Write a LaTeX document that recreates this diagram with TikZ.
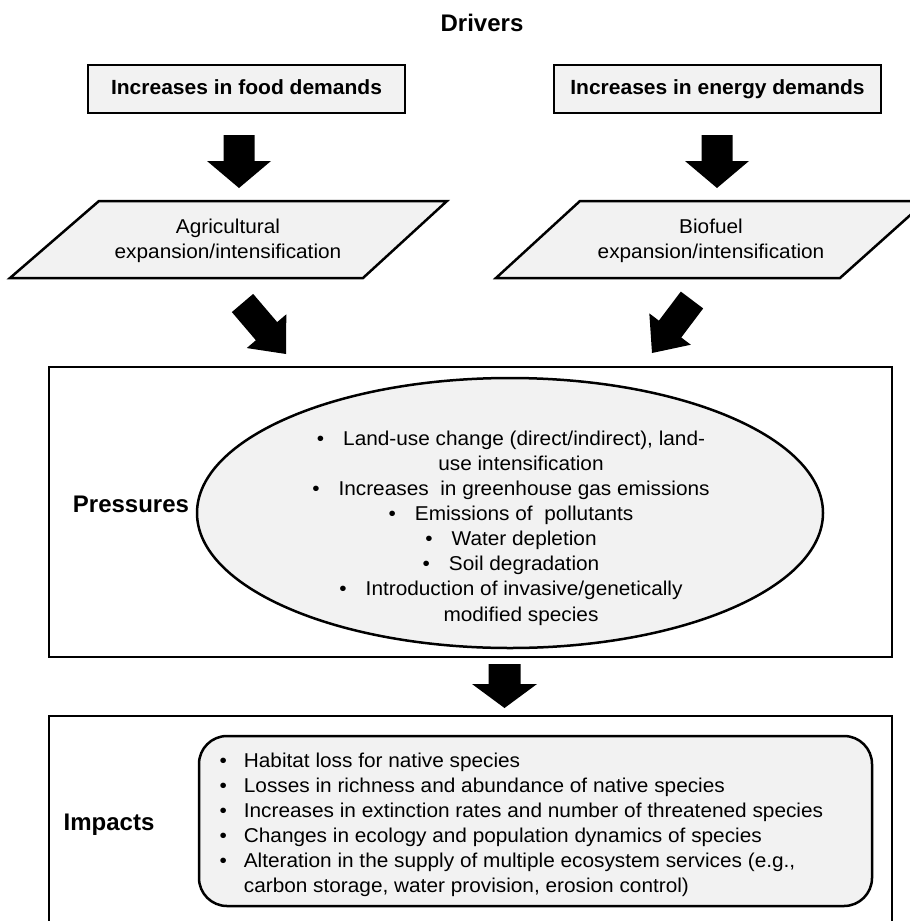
\documentclass[tikz,border=0pt]{standalone}
\usepackage{fontspec}
\setmainfont{Liberation Sans}
\newfontfamily\bodyfamily[FakeStretch=1.04]{Liberation Sans}
\newfontfamily\titlefamily[FakeStretch=1.025]{Liberation Sans}
\usetikzlibrary{calc,shapes.geometric}

\definecolor{panelfill}{HTML}{F2F2F2}
\newcommand{\bodysize}{\bodyfamily\fontsize{20}{25.1}\selectfont}
\newcommand{\titlesize}{\titlefamily\fontsize{20.5}{24}\selectfont\bfseries}
\newcommand{\headsize}{\fontsize{24}{28}\selectfont\bfseries}

\begin{document}
\begin{tikzpicture}[x=1pt,y=-1pt,
  outline/.style={draw=black, line width=2.5pt},
  titlebox/.style={outline, fill=panelfill, inner sep=0pt, font=\titlesize,
    text height=15pt, text depth=4pt},
  panel/.style={outline, inner sep=0pt},
  sectionlabel/.style={font=\headsize, inner sep=0pt},
  body/.style={font=\bodysize, inner sep=0pt},
  % filled block arrow from start to target: {shaft half width}{head half width}{head length}
  blockarrow/.style n args={3}{fill=black, to path={
      ($(\tikztostart)!#1!90:(\tikztotarget)$)
      -- ($(\tikztotarget)!#3!(\tikztostart)!#1!90:(\tikztotarget)$)
      -- ($(\tikztotarget)!#3!(\tikztostart)!#2!90:(\tikztotarget)$)
      -- (\tikztotarget)
      -- ($(\tikztotarget)!#3!(\tikztostart)!#2!-90:(\tikztotarget)$)
      -- ($(\tikztotarget)!#3!(\tikztostart)!#1!-90:(\tikztotarget)$)
      -- ($(\tikztostart)!#1!-90:(\tikztotarget)$)
      -- cycle}}
]
\useasboundingbox (0,0) rectangle (910,921);
\fill[white] (0,0) rectangle (910,921);
\clip (0,0) rectangle (910,921);

% ---- Drivers ----
\node[sectionlabel] (drivers) at (482,23) {Drivers};
\node[titlebox, minimum width=317pt, minimum height=48pt] (food) at (246.5,89) {Increases in food demands};
\node[titlebox, minimum width=327pt, minimum height=48pt] (energy) at (717.5,89) {Increases in energy demands};

\draw[outline, fill=panelfill] (99,201) -- (447,201) -- (363,278) -- (10,278) -- cycle;
\draw[outline, fill=panelfill] (580,201) -- (926,201) -- (840,278) -- (496,278) -- cycle;
\node[body, align=center] (agri) at (228,241) {Agricultural\\expansion/intensification};
\node[body, align=center] (biofuel) at (711,241) {Biofuel\\expansion/intensification};

% ---- Pressures ----
\node[panel, minimum width=843pt, minimum height=290pt] (pressbox) at (470.5,512) {};
\node[ellipse, outline, fill=panelfill, inner sep=0pt, minimum width=626pt, minimum height=270pt] (pressell) at (510,513) {};
\node[sectionlabel] (presslabel) at (131,504) {Pressures};
\node[body, align=center] (presstext) at (511,528) {%
  •\hspace{19pt}Land-use change (direct/indirect), land-\\
  \hspace*{20pt}use intensification\\
  •\hspace{19pt}Increases\ \ in greenhouse gas emissions\\
  •\hspace{19pt}Emissions of\ \ pollutants\\
  •\hspace{19pt}Water depletion\\
  •\hspace{19pt}Soil degradation\\
  •\hspace{19pt}Introduction of invasive/genetically\\
  \hspace*{20pt}modified species};

% ---- Impacts ----
\node[panel, minimum width=843pt, minimum height=229pt] (impbox) at (470.5,830.5) {};
\node[outline, fill=panelfill, rounded corners=28pt, inner sep=0pt, minimum width=673pt, minimum height=170pt] (impround) at (535.5,821) {};
\node[sectionlabel] (implabel) at (109,825) {Impacts};
\node[body, align=left, anchor=west] (imptext) at (219.4,825) {%
  •\hspace{17pt}Habitat loss for native species\\
  •\hspace{17pt}Losses in richness and abundance of native species\\
  •\hspace{17pt}Increases in extinction rates and number of threatened species\\
  •\hspace{17pt}Changes in ecology and population dynamics of species\\
  •\hspace{17pt}Alteration in the supply of multiple ecosystem services (e.g.,\\
  \hphantom{•}\hspace*{17pt}carbon storage, water provision, erosion control)};

% ---- block arrows ----
\coordinate (foodtail) at (239,135);    \coordinate (foodtip) at (239,188);
\coordinate (energytail) at (717,135);  \coordinate (energytip) at (717,188);
\coordinate (agritail) at (242.5,303);  \coordinate (agritip) at (286,354);
\coordinate (biotail) at (692,300);     \coordinate (biotip) at (652,353);
\coordinate (presstail) at (504.5,664); \coordinate (presstip) at (504.5,708);

\fill[blockarrow={15.5pt}{32pt}{27pt}] (foodtail) to (foodtip);
\fill[blockarrow={15.5pt}{32pt}{27pt}] (energytail) to (energytip);
\fill[blockarrow={14pt}{26pt}{30pt}] (agritail) to (agritip);
\fill[blockarrow={14pt}{26pt}{30pt}] (biotail) to (biotip);
\fill[blockarrow={16pt}{32.5pt}{24pt}] (presstail) to (presstip);
\end{tikzpicture}
\end{document}
